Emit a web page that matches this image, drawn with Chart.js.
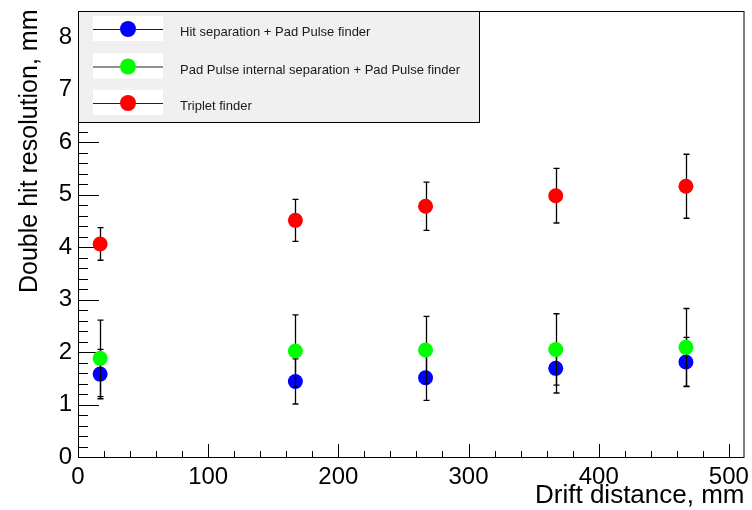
<!DOCTYPE html>
<html>
<head>
<meta charset="utf-8">
<script src="https://cdn.jsdelivr.net/npm/chart.js@4/dist/chart.umd.min.js"></script>
<style>
  html, body { margin: 0; padding: 0; background: #fff; }
  canvas { display: block; }
</style>
</head>
<body>
<canvas id="resChart" width="752" height="510"></canvas>
<script>
// drift distance of each measurement, mm
const driftDistance = [17, 167, 267, 367, 467];

// double hit resolution per method, mm (value and error)
const hitSeparation = [1.58, 1.44, 1.51, 1.69, 1.81];
const hitSeparationErr = [0.47, 0.43, 0.43, 0.47, 0.47];
const padInternal = [1.88, 2.02, 2.04, 2.05, 2.09];
const padInternalErr = [0.73, 0.69, 0.64, 0.68, 0.74];
const triplet = [4.06, 4.51, 4.78, 4.98, 5.16];
const tripletErr = [0.31, 0.40, 0.46, 0.52, 0.61];

const seriesNames = [
  'Hit separation + Pad Pulse finder',
  'Pad Pulse internal separation + Pad Pulse finder',
  'Triplet finder'
];
const seriesColors = ['#0000ff', '#00ff00', '#ff0000'];

const xTitle = 'Drift distance, mm';
const yTitle = 'Double hit resolution, mm';

const FONT = "'Liberation Sans', Arial, Helvetica, sans-serif";

function toPoints(vals) {
  return driftDistance.map((x, i) => ({ x: x, y: vals[i] }));
}

const errs = [hitSeparationErr, padInternalErr, tripletErr];

// error bars under each series' markers
const errorBars = {
  id: 'errorBars',
  beforeDatasetDraw(chart, args) {
    const ds = chart.data.datasets[args.index];
    const err = ds.errors;
    if (!err) return;
    const ctx = chart.ctx;
    const xs = chart.scales.x, ys = chart.scales.y;
    ctx.save();
    ctx.strokeStyle = '#000';
    ctx.lineWidth = 1.3;
    ds.data.forEach((p, i) => {
      const px = Math.round(xs.getPixelForValue(p.x)) + 0.5;
      const top = ys.getPixelForValue(p.y + err[i]);
      const bot = ys.getPixelForValue(p.y - err[i]);
      ctx.beginPath();
      ctx.moveTo(px, top); ctx.lineTo(px, bot);
      ctx.moveTo(px - 3, top); ctx.lineTo(px + 3, top);
      ctx.moveTo(px - 3, bot); ctx.lineTo(px + 3, bot);
      ctx.stroke();
    });
    ctx.restore();
  }
};

// ROOT-like frame with inner ticks
const frame = {
  id: 'frame',
  beforeDatasetsDraw(chart) {
    const ctx = chart.ctx;
    const a = chart.chartArea;
    const xs = chart.scales.x, ys = chart.scales.y;
    ctx.save();
    ctx.strokeStyle = '#000';
    ctx.lineWidth = 1;
    ctx.strokeRect(a.left + 0.5, a.top + 0.5, a.right - a.left - 1, a.bottom - a.top);
    ctx.beginPath();
    for (let v = 0; v <= ys.max + 1e-9; v += 0.2) {
      const major = Math.abs(v - Math.round(v)) < 1e-6;
      const py = Math.round(ys.getPixelForValue(v)) + 0.5;
      ctx.moveTo(a.left, py);
      ctx.lineTo(a.left + (major ? 21 : 10), py);
    }
    for (let v = 0; v <= xs.max + 1e-9; v += 20) {
      const major = v % 100 === 0;
      const px = Math.round(xs.getPixelForValue(v)) + 0.5;
      ctx.moveTo(px, a.bottom);
      ctx.lineTo(px, a.bottom - (major ? 13 : 6));
    }
    ctx.stroke();
    ctx.restore();
  }
};

// legend box and axis titles
const decorations = {
  id: 'decorations',
  afterDraw(chart) {
    const ctx = chart.ctx;
    const a = chart.chartArea;
    ctx.save();
    // legend
    const lx = a.left, ly = a.top, lw = 401, lh = 111;
    ctx.fillStyle = '#f0f0f0';
    ctx.fillRect(lx, ly, lw, lh);
    ctx.strokeStyle = '#000';
    ctx.lineWidth = 1;
    ctx.strokeRect(lx + 0.5, ly + 0.5, lw, lh);
    const rows = [29, 66.5, 103];
    seriesNames.forEach((name, i) => {
      const cy = rows[i];
      ctx.fillStyle = '#fff';
      ctx.fillRect(93, cy - 13, 70, 25);
      ctx.strokeStyle = '#222';
      ctx.beginPath();
      ctx.moveTo(93, cy + 0.5); ctx.lineTo(163, cy + 0.5);
      ctx.stroke();
      ctx.fillStyle = seriesColors[i];
      ctx.beginPath();
      ctx.arc(128, cy, 8, 0, Math.PI * 2);
      ctx.fill();
      ctx.fillStyle = '#1a1a1a';
      ctx.font = '13px ' + FONT;
      ctx.textBaseline = 'middle';
      ctx.textAlign = 'left';
      ctx.fillText(name, 180, cy + 3.5);
    });
    // axis titles
    ctx.fillStyle = '#000';
    ctx.font = '26px ' + FONT;
    ctx.textAlign = 'right';
    ctx.textBaseline = 'alphabetic';
    ctx.fillText(xTitle, a.right, 503);
    ctx.font = '25px ' + FONT;
    ctx.translate(37, 293);
    ctx.rotate(-Math.PI / 2);
    ctx.textAlign = 'left';
    ctx.fillText(yTitle, 0, 0);
    ctx.restore();
  }
};

const datasets = [hitSeparation, padInternal, triplet].map((vals, i) => ({
  label: seriesNames[i],
  data: toPoints(vals),
  errors: errs[i],
  backgroundColor: seriesColors[i],
  borderColor: seriesColors[i],
  borderWidth: 0,
  pointRadius: 7.5,
  pointHoverRadius: 7.5,
  showLine: false,
  order: 3 - i
}));

new Chart(document.getElementById('resChart'), {
  type: 'scatter',
  data: { datasets: datasets },
  options: {
    responsive: false,
    animation: false,
    events: [],
    layout: { padding: { top: 11, right: 6, left: 0, bottom: 0 } },
    plugins: { legend: { display: false }, tooltip: { enabled: false } },
    scales: {
      x: {
        type: 'linear', min: 0, max: 512,
        border: { display: false },
        grid: { display: false, drawTicks: false },
        ticks: {
          stepSize: 100, includeBounds: false, padding: 6,
          color: '#000', font: { family: FONT, size: 24 }
        },
        afterFit(s) { s.height = 53; s.paddingLeft = 0; s.paddingRight = 0; }
      },
      y: {
        type: 'linear', min: 0, max: 8.5,
        border: { display: false },
        grid: { display: false, drawTicks: false },
        ticks: {
          stepSize: 1, includeBounds: false, padding: 6,
          color: '#000', font: { family: FONT, size: 24 }
        },
        afterFit(s) { s.width = 78; s.paddingTop = 0; s.paddingBottom = 0; }
      }
    }
  },
  plugins: [frame, errorBars, decorations]
});
</script>
</body>
</html>
